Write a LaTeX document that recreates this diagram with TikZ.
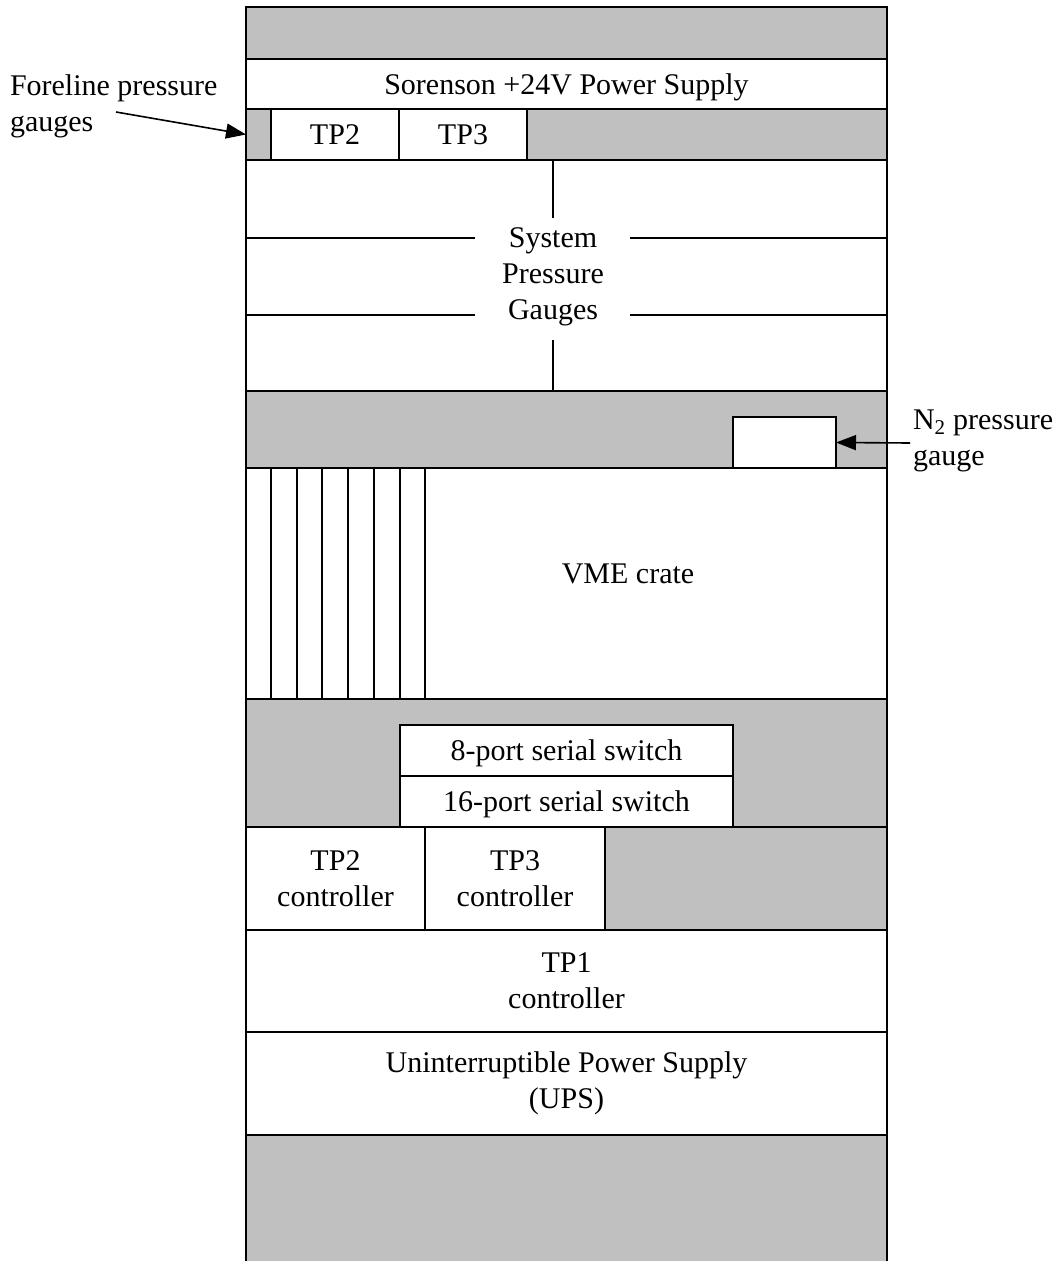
\documentclass[tikz,border=0pt]{standalone}
\usepackage{fontspec}
\setmainfont{Liberation Serif}
\usetikzlibrary{arrows.meta}
\definecolor{rackgray}{RGB}{192,192,192}
\begin{document}
\begin{tikzpicture}[x=1pt,y=-1pt,
  cell/.style={draw=black, line width=1.6pt, fill=white, inner sep=0pt, outer sep=0pt,
    anchor=north west, align=center, font=\fontsize{30}{36}\selectfont},
  onecell/.style={cell, text depth=0pt},
  grayc/.style={cell, fill=rackgray},
  txt/.style={inner sep=0pt, outer sep=0pt, align=center, font=\fontsize{30}{36}\selectfont},
  lbl/.style={txt, align=left, anchor=north west},
  rule/.style={line width=1.6pt},
  pointer/.style={line width=1.6pt, -{Triangle[length=20pt,width=15pt]}}]
\useasboundingbox (0,0) rectangle (1063,1261);

% bottom gray area (open at bottom)
\fill[rackgray] (246,1135) rectangle (887,1261);
\draw[rule] (246,1261) -- (246,1135) -- (887,1135) -- (887,1261);

% rows
\node[grayc, minimum width=641pt, minimum height=52pt] (topg) at (246,7) {};
\node[onecell, minimum width=641pt, minimum height=50pt] (psu) at (246,59) {Sorenson +24V Power Supply};
\node[grayc, minimum width=641pt, minimum height=51pt] (tprow) at (246,109) {};
\node[grayc, minimum width=25pt, minimum height=51pt] (fgauge) at (246,109) {};
\node[onecell, minimum width=128pt, minimum height=51pt] (tp2) at (271,109) {TP2};
\node[onecell, minimum width=128pt, minimum height=51pt] (tp3) at (399,109) {TP3};

\node[cell, minimum width=641pt, minimum height=231pt] (sysbox) at (246,160) {};
\node[txt] (systxt) at (553,277) {System\\Pressure\\Gauges};
\draw[rule] (246,238) -- (475,238) (630,238) -- (887,238);
\draw[rule] (246,315) -- (475,315) (630,315) -- (887,315);
\draw[rule] (553,160) -- (553,218) (553,340) -- (553,391);

\node[grayc, minimum width=641pt, minimum height=77pt] (n2row) at (246,391) {};
\node[cell, minimum width=103pt, minimum height=51pt] (n2box) at (733,417) {};

\node[cell, minimum width=641pt, minimum height=231pt] (vme) at (246,468) {};
\node[txt, text depth=0pt] (vmetxt) at (628,574) {VME crate};
\foreach \sx in {271,297,322,348,374,400,425}
  \draw[rule] (\sx,468) -- (\sx,699);

\node[grayc, minimum width=641pt, minimum height=128pt] (swrow) at (246,699) {};
\node[onecell, minimum width=333pt, minimum height=51pt] (sw8) at (400,725) {8-port serial switch};
\node[onecell, minimum width=333pt, minimum height=51pt] (sw16) at (400,776) {16-port serial switch};

\node[cell, minimum width=179pt, minimum height=103pt] (tp2c) at (246,827) {TP2\\controller};
\node[cell, minimum width=180pt, minimum height=103pt] (tp3c) at (425,827) {TP3\\controller};
\node[grayc, minimum width=282pt, minimum height=103pt] (ctrlg) at (605,827) {};

\node[cell, minimum width=641pt, minimum height=102pt] (tp1c) at (246,930) {TP1\\controller};
\node[cell, minimum width=641pt, minimum height=103pt] (ups) at (246,1032) {Uninterruptible Power Supply\\(UPS)};

% labels and arrows
\node[lbl] (forelbl) at (10,75) {Foreline pressure\\gauges};
\coordinate (fstart) at (116,112);
\draw[pointer] (fstart) -- (fgauge.west);

\node[lbl] (n2lbl) at (913,410) {N\textsubscript{2} pressure\\gauge};
\coordinate (n2start) at (910,443);
\draw[pointer] (n2start) -- (n2box.east);
\end{tikzpicture}
\end{document}
